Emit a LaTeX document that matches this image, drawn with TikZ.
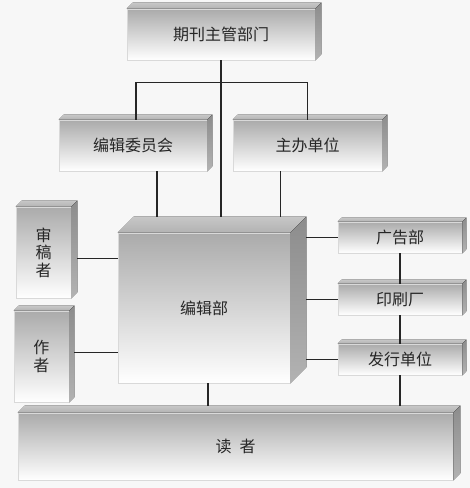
\documentclass[tikz,border=0pt]{standalone}
\usepackage{fontspec}
\setmainfont{Noto Sans CJK SC}
\tikzset{
  front/.style={inner sep=0pt,draw=black!15,line width=.6pt,top color=black!33,bottom color=white,
    text=black!85,font=\fontsize{16}{17.5}\selectfont,align=center},
  topface/.style={top color=black!22,bottom color=black!30,draw=none},
  sideface/.style={top color=black!45,bottom color=black!30,draw=none},
  link/.style={draw=black!85,line width=1.1pt}
}
\begin{document}
\begin{tikzpicture}[x=1pt,y=-1pt]
\useasboundingbox[fill=black!3] (0,0) rectangle (470,488);
\node[front,minimum width=188pt,minimum height=51pt] (dept) at (221,34.5) {期刊主管部门};
\node[front,minimum width=148pt,minimum height=51pt] (cmte) at (133,145.5) {编辑委员会};
\node[front,minimum width=149pt,minimum height=51pt] (host) at (307.5,145.5) {主办单位};
\node[front,minimum width=172pt,minimum height=150pt] (edit) at (204,308) {编辑部};
\node[front,minimum width=55pt,minimum height=91pt] (review) at (43.5,252.5) {审\\稿\\者};
\node[front,minimum width=55pt,minimum height=91pt] (author) at (41.5,356.5) {作\\者};
\node[front,minimum width=124pt,minimum height=31pt] (ad) at (400,237.5) {广告部};
\node[front,minimum width=124pt,minimum height=31pt] (print) at (400,299.5) {印刷厂};
\node[front,minimum width=124pt,minimum height=31pt] (dist) at (400,359.5) {发行单位};
\node[front,minimum width=435pt,minimum height=67pt] (reader) at (235.5,446.5) {读\enspace 者};
\foreach \n/\d in {dept/6,cmte/5,host/5,edit/16,review/6,author/5,ad/4,print/4,dist/4,reader/7}{
  \fill[topface] (\n.north west) -- ([xshift=\d pt,yshift=\d pt]\n.north west)
    -- ([xshift=\d pt,yshift=\d pt]\n.north east) -- (\n.north east) -- cycle;
  \fill[sideface] (\n.north east) -- ([xshift=\d pt,yshift=\d pt]\n.north east)
    -- ([xshift=\d pt,yshift=\d pt]\n.south east) -- (\n.south east) -- cycle;
  \coordinate (\n-tb) at ([xshift=\d pt,yshift=\d pt]\n.north);
  \coordinate (\n-rb) at ([xshift=\d pt,yshift=\d pt]\n.east);
}
\coordinate (review-out) at ([xshift=6pt,yshift=-6pt]review.east);
\coordinate (author-out) at ([xshift=5pt,yshift=4pt]author.east);
\draw[link] (dept.south) -- (dept.south |- edit-tb);
\draw[link] ([xshift=3pt]cmte.north) -- ++(0,-37) -| (host.north);
\draw[link] ([xshift=24pt]cmte.south) -- ([xshift=24pt]cmte.south |- edit-tb);
\draw[link] ([xshift=-27pt]host.south) -- ([xshift=-27pt]host.south |- edit-tb);
\draw[link] (review-out) -- (review-out -| edit.west);
\draw[link] (author-out) -- (author-out -| edit.west);
\draw[link] (ad.west) -- (ad.west -| edit-rb);
\draw[link] (print.west) -- (print.west -| edit-rb);
\draw[link] (dist.west) -- (dist.west -| edit-rb);
\draw[link] (ad.south) -- (print.north);
\draw[link] (print.south) -- (dist.north);
\draw[link] (dist.south) -- (dist.south |- reader-tb);
\draw[link] ([xshift=4pt]edit.south) -- ([xshift=4pt]edit.south |- reader-tb);
\end{tikzpicture}
\end{document}
